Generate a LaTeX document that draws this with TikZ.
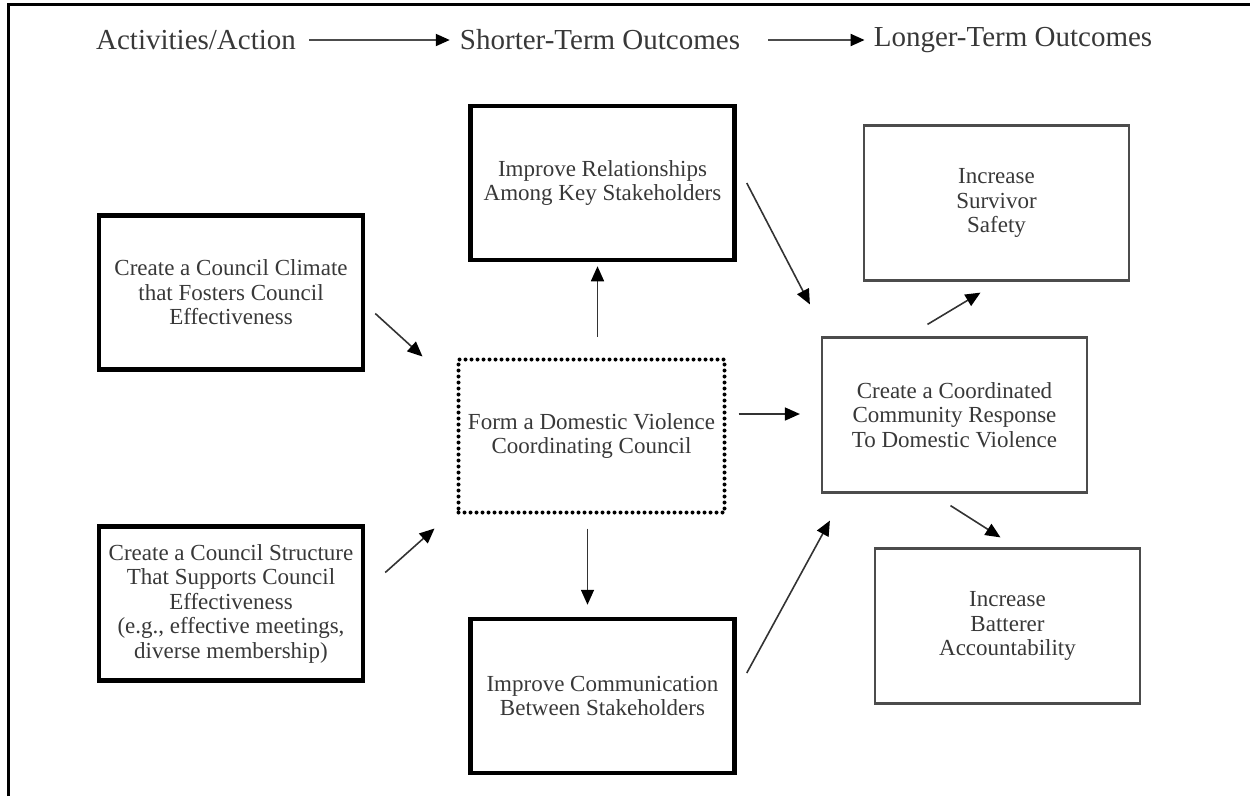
\documentclass[tikz,border=0pt]{standalone}
\usepackage{fontspec}
\setmainfont{Liberation Serif}
\usetikzlibrary{arrows.meta}
\definecolor{txt}{gray}{0.22}
\definecolor{thinline}{gray}{0.3}
\tikzset{
  thickbox/.style={draw=black, line width=4.5pt, minimum width=264pt, minimum height=154pt, align=center, inner sep=0pt, text=txt, font=\fontsize{23}{24.5}\selectfont},
  thinbox/.style={draw=thinline, line width=2.2pt, minimum width=265pt, minimum height=155pt, align=center, inner sep=0pt, text=txt, font=\fontsize{23}{24.5}\selectfont},
  dotbox/.style={draw=black, line width=4pt, dash pattern=on 0pt off 6pt, line cap=round, minimum width=266pt, minimum height=153pt, align=center, inner sep=0pt, text=txt, font=\fontsize{23}{24.5}\selectfont},
  headtext/.style={text=txt, inner sep=0pt, font=\fontsize{29}{30}\selectfont},
  link/.style={draw=black!80, line width=1.6pt, -{Triangle[length=15pt,width=13pt,color=black]}},
  headlink/.style={draw=black!70, line width=2pt, -{Triangle[length=14pt,width=12pt,color=black]}},
  frameline/.style={draw=black, line width=3pt}
}
\begin{document}
\begin{tikzpicture}[x=1pt,y=-1pt]
\useasboundingbox (0,0) rectangle (1250,796);
% frame (top and left)
\coordinate (fa) at (8.3,796);
\coordinate (fb) at (8.3,4.5);
\coordinate (fc) at (1250,4.5);
\draw[frameline] (fa) -- (fb) -- (fc);
% header
\node[headtext] (h1) at (196,40) {Activities/Action};
\node[headtext] (h2) at (600,40) {Shorter-Term Outcomes};
\node[headtext] (h3) at (1013,40) {Longer-Term Outcomes};
\draw[headlink, shorten <=13pt, shorten >=10pt] (h1.east) -- (h2.west);
\draw[headlink, shorten <=28pt, shorten >=9pt] (h2.east) -- (h3.west);
% boxes
\node[thickbox] (ccc) at (231,292.5) {Create a Council Climate\\that Fosters Council\\Effectiveness};
\node[thickbox] (ccs) at (231,603.5) {Create a Council Structure\\That Supports Council\\Effectiveness\\(e.g., effective meetings,\\diverse membership)};
\node[dotbox] (dv) at (591.5,436) {Form a Domestic Violence\\Coordinating Council};
\node[thickbox] (ir) at (602.5,183) {Improve Relationships\\Among Key Stakeholders};
\node[thickbox] (ic) at (602.5,696) {Improve Communication\\Between Stakeholders};
\node[thinbox] (iss) at (996.5,203) {Increase\\Survivor\\Safety};
\node[thinbox] (ccr) at (954.5,415) {Create a Coordinated\\Community Response\\To Domestic Violence};
\node[thinbox] (iba) at (1007.5,626) {Increase\\Batterer\\Accountability};
% connectors
\draw[link] ([shift={(10,21)}]ccc.east) -- ([shift={(-34,-1)}]dv.north west);
\draw[link] ([shift={(20,-31)}]ccs.east) -- ([shift={(-22,14)}]dv.south west);
\draw[link] ([shift={(6,-21)}]dv.north) -- ([shift={(-5,4)}]ir.south);
\draw[link] ([shift={(-4,14)}]dv.south) -- ([shift={(-15,-12)}]ic.north);
\draw[link] ([shift={(10,0)}]ir.east) -- ([shift={(-11,-32)}]ccr.north west);
\draw[link] ([shift={(12,-22)}]dv.east) -- ([shift={(-21,-1)}]ccr.west);
\draw[link] ([shift={(10,-23)}]ic.east) -- ([shift={(9,27)}]ccr.south west);
\draw[link] ([shift={(-27,-12)}]ccr.north) -- ([shift={(-16,11)}]iss.south);
\draw[link] ([shift={(-4,12)}]ccr.south) -- ([shift={(-7,-10)}]iba.north);
\end{tikzpicture}
\end{document}
